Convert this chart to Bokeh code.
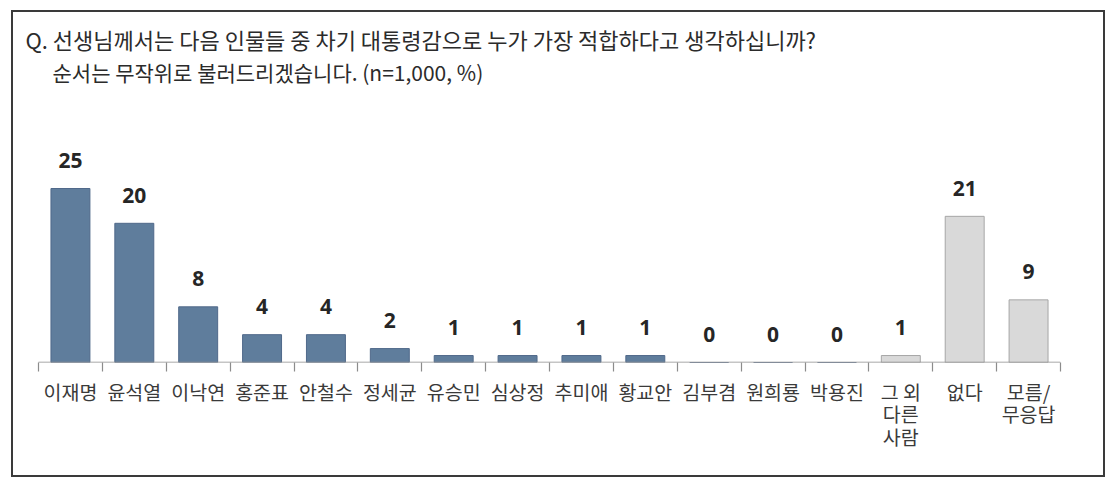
from bokeh.plotting import figure
from bokeh.models import Range1d, FixedTicker, Label, ColumnDataSource
from bokeh.embed import file_html
from bokeh.resources import INLINE

# ---- data ----
title_line1 = "Q. 선생님께서는 다음 인물들 중 차기 대통령감으로 누가 가장 적합하다고 생각하십니까?"
title_line2 = "순서는 무작위로 불러드리겠습니다. (n=1,000, %)"

candidate_names = ["이재명", "윤석열", "이낙연", "홍준표", "안철수", "정세균", "유승민",
                   "심상정", "추미애", "황교안", "김부겸", "원희룡", "박용진"]
candidate_values = [25, 20, 8, 4, 4, 2, 1, 1, 1, 1, 0, 0, 0]

other_names = ["그 외\n다른\n사람", "없다", "모름/\n무응답"]
other_values = [1, 21, 9]

# ---- styling ----
CAND_FILL, CAND_LINE = "#5f7d9c", "#50698a"
OTHER_FILL, OTHER_LINE = "#d9d9d9", "#a6a6a6"
AXIS_COLOR = "#8c8c8c"
KR_FONT = "Noto Sans CJK KR"

names = candidate_names + other_names
values = candidate_values + other_values
n = len(names)
xs = [i + 0.5 for i in range(n)]
fills = [CAND_FILL] * len(candidate_names) + [OTHER_FILL] * len(other_names)
lines = [CAND_LINE] * len(candidate_names) + [OTHER_LINE] * len(other_names)

src = ColumnDataSource(dict(x=xs, top=values, fill=fills, line=lines,
                            lbl=[str(v) for v in values]))

# geometry (pixels)
W, H = 1094, 467
LEFT_PAD, AXIS_LEFT, AXIS_RIGHT, AXIS_Y = 8, 25, 1047, 350
PX_PER_UNIT = 6.96
px_per_cat = (AXIS_RIGHT - AXIS_LEFT) / n
x_start = -(AXIS_LEFT - LEFT_PAD) / px_per_cat

p = figure(width=W, height=H, output_backend="svg", toolbar_location=None,
           x_range=Range1d(x_start, n), y_range=Range1d(0, AXIS_Y / PX_PER_UNIT),
           min_border_left=LEFT_PAD, min_border_right=W - AXIS_RIGHT, min_border_top=0,
           min_border_bottom=H - AXIS_Y, y_axis_location=None, title=None,
           background_fill_color="white", border_fill_color="white")
p.styles = {"margin-left": "11px", "margin-top": "10px", "border": "2px solid #3a3a3a"}
p.outline_line_color = None
p.xgrid.visible = False
p.ygrid.visible = False

p.vbar(x="x", top="top", width=0.61, bottom=0, source=src,
       fill_color="fill", line_color="line", line_width=1)

# baseline spanning the categories only
p.segment(x0=[0], y0=[0], x1=[n], y1=[0], line_color=AXIS_COLOR, line_width=1.5)

p.text(x="x", y="top", text="lbl", source=src, y_offset=-28,
       text_align="center", text_baseline="middle",
       text_font={"value": "Open Sans"}, text_font_style="bold",
       text_font_size="21px", text_color="#262626")

ax = p.xaxis[0]
ax.ticker = FixedTicker(ticks=xs, minor_ticks=list(range(n + 1)))
ax.major_label_overrides = {x: name for x, name in zip(xs, names)}
ax.axis_line_color = None
ax.major_tick_line_color = None
ax.major_tick_out = 9
ax.major_tick_in = 0
ax.minor_tick_line_color = AXIS_COLOR
ax.minor_tick_line_width = 1.2
ax.minor_tick_out = 9
ax.minor_tick_in = 0
ax.major_label_standoff = 5
ax.major_label_text_font = KR_FONT
ax.major_label_text_font_size = "19.5px"
ax.major_label_text_color = "#3a3a3a"
ax.major_label_text_line_height = 0.78

p.add_layout(Label(x=4, y=324, x_units="screen", y_units="screen", text=title_line1,
                   text_font=KR_FONT, text_font_size="22px", text_color="#2b2b2b",
                   text_baseline="middle", text_align="left"))
p.add_layout(Label(x=31, y=291, x_units="screen", y_units="screen", text=title_line2,
                   text_font=KR_FONT, text_font_size="21px", text_color="#2b2b2b",
                   text_baseline="middle", text_align="left"))

open("out.html", "w").write(file_html(p, INLINE))
